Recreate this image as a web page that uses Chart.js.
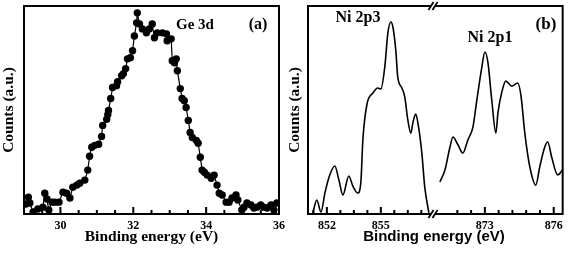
<!DOCTYPE html>
<html>
<head>
<meta charset="utf-8">
<script src="https://cdn.jsdelivr.net/npm/chart.js@4/dist/chart.umd.min.js"></script>
<style>
  body { margin: 0; background: #fff; width: 568px; height: 254px; position: relative; overflow: hidden; }
  canvas { position: absolute; top: 0; }
</style>
</head>
<body>
<canvas id="geChart" width="290" height="254" style="left:0px"></canvas>
<canvas id="niLeft" width="282" height="254" style="left:286px"></canvas>
<canvas id="niRight" width="145" height="254" style="left:423px"></canvas>
<script>
// (a) Ge 3d
const geEnergy = [29.05, 29.12, 29.16, 29.25, 29.38, 29.52, 29.57, 29.63, 29.68, 29.77, 29.85, 29.96,
  30.07, 30.17, 30.26, 30.34, 30.45, 30.53, 30.67, 30.75, 30.80, 30.86, 30.94, 31.05, 31.13, 31.16,
  31.27, 31.30, 31.32, 31.38, 31.43, 31.54, 31.57, 31.68, 31.73, 31.79, 31.84, 31.92, 31.98, 32.03,
  32.09, 32.11, 32.17, 32.25, 32.36, 32.44, 32.52, 32.58, 32.66, 32.80, 32.91, 32.93, 33.04, 33.07,
  33.13, 33.18, 33.21, 33.29, 33.34, 33.40, 33.45, 33.51, 33.56, 33.62, 33.73, 33.78, 33.84, 33.89,
  33.95, 34.03, 34.14, 34.22, 34.30, 34.36, 34.44, 34.55, 34.63, 34.71, 34.82, 34.87, 34.98, 35.04,
  35.12, 35.23, 35.31, 35.39, 35.50, 35.58, 35.67, 35.78, 35.86, 35.94]
const geCounts = [4.8, 8.1, 5.3, 1.0, 2.4, 3.3, 10.0, 7.2, 1.9, 5.7, 5.7, 5.7,
  10.5, 10.0, 7.7, 12.9, 13.9, 14.8, 16.3, 21.1, 27.8, 32.1, 33.0, 33.5, 37.3, 42.6,
  45.5, 47.8, 49.8, 55.5, 60.8, 61.7, 63.6, 66.5, 67.5, 69.9, 74.6, 75.1, 78.5, 85.6,
  91.9, 96.7, 91.4, 89.0, 87.1, 89.0, 91.4, 84.7, 87.1, 87.1, 86.6, 83.3, 84.2, 73.7,
  72.7, 74.6, 68.9, 60.3, 55.5, 54.5, 51.2, 45.0, 39.2, 36.8, 35.4, 34.0, 27.3, 21.1,
  20.1, 18.7, 17.2, 18.7, 13.9, 10.0, 9.1, 5.7, 5.7, 7.7, 9.1, 6.7, 1.9, 3.3,
  5.3, 4.3, 2.9, 3.3, 4.3, 3.3, 2.9, 4.3, 1.9, 5.3]
const geTicks = [29.5, 30, 30.5, 31, 31.5, 32, 32.5, 33, 33.5, 34, 34.5, 35, 35.5, 36]
const geLabels = [30, 32, 34, 36]

// (b) Ni 2p3
const ni2p3Energy = [851.22, 851.44, 851.67, 851.9, 852.15, 852.44, 852.67, 852.89, 853.22, 853.44,
  853.72, 853.89, 854.00, 854.22, 854.56, 854.83, 855.00, 855.22, 855.39, 855.56, 855.67, 855.83,
  855.94, 856.17, 856.33, 856.50, 856.67, 856.78, 856.94, 857.06, 857.28, 857.44, 857.67]
const ni2p3Counts = [0.5, 6.7, 1.0, 10.5, 18.5, 23.1, 16.3, 9.1, 18.3, 13.5,
  10.1, 15.4, 35.6, 52.4, 58.2, 60.6, 60.1, 70.7, 87.0, 92.3, 89.9, 78.8,
  65.9, 60.6, 56.3, 45.2, 38.9, 43.8, 48.1, 43.8, 29.3, 13.0, 0.5]
const ni2p3Ticks = [851.25, 852, 852.75, 853.5, 854.25, 855, 855.75, 856.5, 857.25]
const ni2p3Labels = [852, 855]

// (b) Ni 2p1
const ni2p1Energy = [871.04, 871.26, 871.48, 871.61, 871.83, 872.04, 872.26, 872.48, 872.65, 872.87,
  873.00, 873.13, 873.30, 873.48, 873.57, 873.74, 873.91, 874.17, 874.43, 874.57, 874.74, 874.96,
  875.22, 875.39, 875.61, 875.74, 875.91, 876.17, 876.39]
const ni2p1Counts = [15.4, 21.2, 32.2, 37.0, 33.2, 29.3, 35.6, 41.8, 54.8, 70.7,
  77.9, 73.1, 54.8, 38.9, 48.6, 58.7, 63.9, 61.5, 63.0, 57.2, 38.9, 22.6,
  13.9, 22.6, 32.2, 34.6, 27.4, 18.8, 21.2]
const ni2p1Ticks = [871.8, 872.4, 873, 873.6, 874.2, 874.8, 875.4, 876]
const ni2p1Labels = [873, 876]

const serif = "'Liberation Serif', 'Times New Roman', serif"
const sans = "'Liberation Sans', Arial, sans-serif"
Chart.defaults.color = '#000'
Chart.defaults.font.family = serif
Chart.defaults.font.weight = 'bold'
Chart.defaults.animation = false
Chart.defaults.plugins.legend.display = false
Chart.defaults.plugins.tooltip.enabled = false

const pairs = (xs, ys) => xs.map((v, i) => ({ x: v, y: ys[i] }))

// border, inward ticks, break marks, labels
const framePlugin = {
  id: 'frame',
  afterDraw(chart, args, opts) {
    const { ctx, chartArea: a } = chart
    const x = chart.scales.x
    ctx.save()
    ctx.strokeStyle = '#000'
    ctx.lineWidth = 2
    ctx.lineCap = 'square'
    ctx.beginPath()
    const sides = opts.sides || ''
    if (sides.includes('l')) { ctx.moveTo(a.left, a.top); ctx.lineTo(a.left, a.bottom) }
    if (sides.includes('r')) { ctx.moveTo(a.right, a.top); ctx.lineTo(a.right, a.bottom) }
    if (sides.includes('t')) { ctx.moveTo(a.left, a.top); ctx.lineTo(a.right, a.top) }
    if (sides.includes('b')) { ctx.moveTo(a.left, a.bottom); ctx.lineTo(a.right, a.bottom) }
    ctx.stroke()
    ctx.lineCap = 'butt'
    ctx.beginPath()
    x.ticks.forEach(t => {
      const px = x.getPixelForValue(t.value)
      const len = (opts.major || []).includes(t.value) ? 7 : 4
      ctx.moveTo(px, a.bottom)
      ctx.lineTo(px, a.bottom - len)
    })
    ctx.stroke()

    if (opts.breakMark) {
      const cx = a.left
      ;[a.top, a.bottom].forEach(y => {
        ctx.fillStyle = '#fff'
        ctx.beginPath()
        ctx.moveTo(cx - 4.5, y + 4); ctx.lineTo(cx + 0.5, y - 4)
        ctx.lineTo(cx + 4.5, y - 4); ctx.lineTo(cx - 0.5, y + 4)
        ctx.closePath()
        ctx.fill()
        ctx.lineWidth = 1.8
        ctx.beginPath()
        ctx.moveTo(cx - 4.5, y + 4); ctx.lineTo(cx + 0.5, y - 4)
        ctx.moveTo(cx - 0.5, y + 4); ctx.lineTo(cx + 4.5, y - 4)
        ctx.stroke()
      })
    }

    ctx.fillStyle = '#000'
    ctx.textAlign = 'center'
    ctx.textBaseline = 'middle'
    ;(opts.texts || []).forEach(t => {
      ctx.font = t.font
      ctx.fillText(t.text, t.x, t.y)
    })
    ctx.restore()
  }
}

function xAxis(min, max, ticks, labels, title) {
  return {
    type: 'linear', min: min, max: max,
    afterBuildTicks: s => { s.ticks = ticks.map(v => ({ value: v })) },
    afterFit: s => { s.height = 40 },
    grid: { display: false, drawTicks: false },
    border: { display: false },
    ticks: {
      autoSkip: false, maxRotation: 0, padding: 5,
      font: { family: serif, size: 12, weight: 'bold' },
      callback: v => labels.includes(v) ? String(v) : ''
    },
    title: title
      ? { display: true, text: title, font: { family: serif, size: 15.5, weight: 'bold' }, padding: { top: 0, bottom: 8 } }
      : { display: false }
  }
}

function yAxis(width, showTitle) {
  return {
    min: 0, max: 100,
    display: true,
    afterFit: s => { s.width = width },
    grid: { display: false, drawTicks: false },
    border: { display: false },
    ticks: { display: false },
    title: { display: showTitle, text: 'Counts (a.u.)', font: { family: serif, size: 15.5, weight: 'bold' }, padding: 0 }
  }
}

new Chart('geChart', {
  type: 'scatter',
  data: {
    datasets: [{
      data: pairs(geEnergy, geCounts),
      showLine: true,
      borderColor: '#000',
      borderWidth: 1.2,
      pointRadius: 3.7,
      pointBackgroundColor: '#000',
      pointBorderWidth: 0
    }]
  },
  options: {
    responsive: false,
    layout: { padding: { left: 0, right: 10, top: 6, bottom: 0 } },
    scales: {
      x: xAxis(29, 36, geTicks, geLabels, 'Binding energy (eV)'),
      y: yAxis(24, true)
    },
    plugins: {
      frame: {
        sides: 'lrtb', major: geLabels,
        texts: [
          { text: 'Ge 3d', x: 195, y: 25, font: "bold 15px " + serif },
          { text: '(a)', x: 258, y: 25, font: "bold 16px " + serif }
        ]
      }
    }
  },
  plugins: [framePlugin]
})

new Chart('niLeft', {
  type: 'scatter',
  data: {
    datasets: [{
      data: pairs(ni2p3Energy, ni2p3Counts),
      showLine: true,
      borderColor: '#000',
      borderWidth: 1.6,
      cubicInterpolationMode: 'monotone',
      pointRadius: 0
    }]
  },
  options: {
    responsive: false,
    layout: { padding: { left: 0, right: 135, top: 6, bottom: 0 } },
    scales: {
      x: xAxis(850.95, 857.9, ni2p3Ticks, ni2p3Labels, null),
      y: yAxis(22, true)
    },
    plugins: {
      frame: {
        sides: 'ltb', major: ni2p3Labels,
        texts: [
          { text: 'Ni 2p3', x: 72, y: 18, font: "bold 16px " + serif },
          { text: 'Ni 2p1', x: 204, y: 38, font: "bold 16px " + serif },
          { text: '(b)', x: 260, y: 25, font: "bold 17px " + serif },
          { text: 'Binding energy (eV)', x: 148, y: 237, font: "bold 15px " + sans }
        ]
      }
    }
  },
  plugins: [framePlugin]
})

new Chart('niRight', {
  type: 'scatter',
  data: {
    datasets: [{
      data: pairs(ni2p1Energy, ni2p1Counts),
      showLine: true,
      borderColor: '#000',
      borderWidth: 1.6,
      cubicInterpolationMode: 'monotone',
      pointRadius: 0
    }]
  },
  options: {
    responsive: false,
    layout: { padding: { left: 10, right: 4, top: 6, bottom: 0 } },
    scales: {
      x: xAxis(870.74, 876.39, ni2p1Ticks, ni2p1Labels, null),
      y: { min: 0, max: 100, display: false }
    },
    plugins: {
      frame: { sides: 'rtb', major: ni2p1Labels, breakMark: true }
    }
  },
  plugins: [framePlugin]
})
</script>
</body>
</html>
